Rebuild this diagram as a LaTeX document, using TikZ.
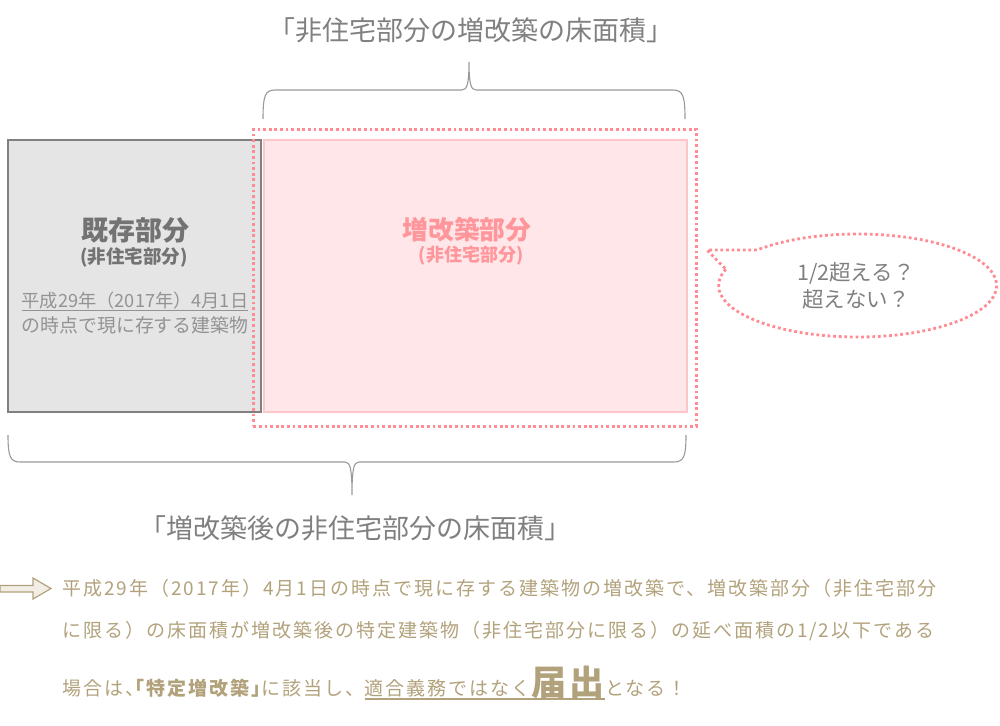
\documentclass[tikz,border=0pt]{standalone}
\usepackage{fontspec}
\setmainfont{Noto Sans CJK JP}
\newfontfamily\bodyfont{Noto Sans CJK JP}[LetterSpace=10.5]
\newfontfamily\bodyfonthalt{Noto Sans CJK JP}[LetterSpace=10.5, RawFeature=+halt]
\definecolor{gtext}{RGB}{128,128,128}
\definecolor{gfill}{RGB}{229,229,229}
\definecolor{gborder}{RGB}{128,128,128}
\definecolor{pfill}{RGB}{255,230,232}
\definecolor{pborder}{RGB}{255,198,202}
\definecolor{pdot}{RGB}{255,140,148}
\definecolor{ptext}{RGB}{255,150,155}
\definecolor{tan}{RGB}{178,162,124}
\definecolor{tanfill}{RGB}{242,238,230}
\tikzset{
  dotline/.style={draw=pdot, line width=2.8pt, dash pattern=on 2.8pt off 2.8pt},
  bracket/.style={draw=gtext!80, line width=1.1pt},
  txt/.style={inner sep=0pt, text=gtext},
  body/.style={inner sep=0pt, text=tan, anchor=base west, font=\bodyfont\fontsize{19}{24}\selectfont},
  bodyh/.style={inner sep=0pt, text=tan, anchor=base west, font=\bodyfonthalt\fontsize{19}{24}\selectfont},
}
\begin{document}
\begin{tikzpicture}[x=1pt,y=-1pt]
\useasboundingbox (0,0) rectangle (1000,725);
% boxes
\node[draw=gborder, fill=gfill, line width=2.4pt, minimum width=253pt, minimum height=272pt, anchor=north west, inner sep=0pt] (exist) at (7,139) {};
\node[draw=pborder, fill=pfill, line width=2pt, minimum width=423pt, minimum height=272pt, anchor=north west, inner sep=0pt] (ext) at (263,139) {};
\node[dotline, minimum width=443pt, minimum height=297pt, anchor=north west, inner sep=0pt] (dots) at (252,128) {};
% existing part texts
\node[txt, font=\fontsize{27}{30}\selectfont\bfseries, text=gtext!90!black] (e1) at (135,230) {既存部分};
\node[txt, font=\fontsize{18.5}{20}\selectfont\bfseries, text=gtext!90!black] (e2) at (134,257) {(非住宅部分)};
\node[txt, font=\fontsize{18.2}{22}\selectfont, text=gtext!85!white] (e3) at (135,301) {平成29年（2017年）4月1日};
\draw[gtext!85!white, line width=0.8pt] ([yshift=-1pt]e3.south west) -- ([yshift=-1pt]e3.south east);
\node[txt, font=\fontsize{18.9}{22}\selectfont, text=gtext!85!white] (e4) at (135,325) {の時点で現に存する建築物};
% extension texts
\node[txt, font=\fontsize{25.8}{30}\selectfont\bfseries, text=ptext] (x1) at (467,230) {増改築部分};
\node[txt, font=\fontsize{18}{20}\selectfont\bfseries, text=ptext] (x2) at (471,256) {(非住宅部分)};
% braces
\draw[bracket] (263,119) .. controls (263,96) and (265,90) .. (275,90) -- (462,90) .. controls (467,90) and (469,84) .. (469,62) .. controls (469,84) and (471,90) .. (476,90) -- (673,90) .. controls (683,90) and (685,96) .. (685,119);
\draw[bracket] (8,435) .. controls (8,456) and (10,462) .. (20,462) -- (345,462) .. controls (350,462) and (352,468) .. (352,495) .. controls (352,468) and (354,462) .. (359,462) -- (674,462) .. controls (684,462) and (686,456) .. (686,435);
\node[txt, font=\fontsize{27}{30}\selectfont] (t1) at (471,30) {「非住宅部分の増改築の床面積」};
\node[txt, font=\fontsize{27}{30}\selectfont] (t2) at (355,528) {「増改築後の非住宅部分の床面積」};
% speech bubble
\draw[dotline] (725,268.5) -- (707,250) -- (757,250) arc[start angle=223.6, end angle=559.3, x radius=139, y radius=51.5] -- cycle;
\node[txt, font=\fontsize{21.5}{27}\selectfont, align=center] (q) at (856,286) {1/2超える？\\超えない？};
% bottom arrow
\draw[tan, fill=tanfill, line width=1.2pt] (0,585.5) -- (33,585.5) -- (33,578) -- (51,588.5) -- (33,599) -- (33,592) -- (0,592) -- cycle;
% bottom text
\node[body] (l1) at (62,595) {平成29年（2017年）4月1日の時点で現に存する建築物の増改築で、増改築部分（非住宅部分};
\node[body] (l2) at (62,637) {に限る）の床面積が増改築後の特定建築物（非住宅部分に限る）の延べ面積の1/2以下である};
\node[bodyh] (c1) at (62,695) {場合は、};
\node[bodyh, font=\bodyfonthalt\fontsize{19}{24}\selectfont\bfseries] (c2) at (c1.base east) {「特定増改築」};
\node[body] (c3) at (c2.base east) {に該当し、};
\node[body] (c4) at (c3.base east) {適合義務ではなく};
\node[body, font=\bodyfont\fontsize{35}{38}\selectfont\bfseries] (c5) at (c4.base east) {届出};
\node[body] (c6) at (c5.base east) {となる！};
\draw[tan, line width=1.2pt] ([yshift=-4pt]c4.base west) -- ([yshift=-4pt]c5.base east);
\end{tikzpicture}
\end{document}
